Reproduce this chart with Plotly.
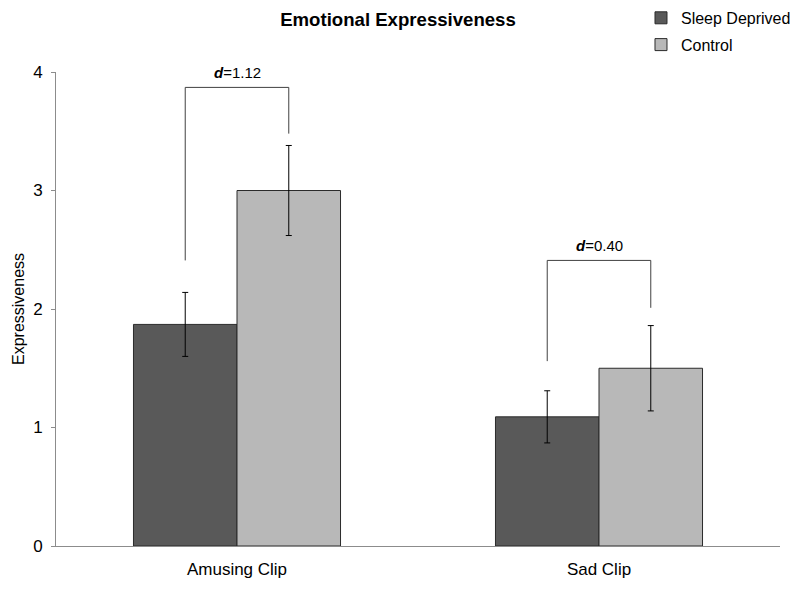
import plotly.graph_objects as go

categories = ["Amusing Clip", "Sad Clip"]
sleep_deprived = [1.87, 1.09]
sleep_deprived_err = [0.27, 0.22]
control = [3.0, 1.50]
control_err = [0.38, 0.36]
effect_labels = ["1.12", "0.40"]
bracket_top = [3.87, 2.41]
bracket_left_bottom = [2.41, 1.56]
bracket_right_bottom = [3.48, 2.01]
y_ticks = [0, 1, 2, 3, 4]

FONT = "Liberation Sans, Arial, sans-serif"

fig = go.Figure()
fig.add_trace(go.Bar(
    name="Sleep Deprived", x=categories, y=sleep_deprived, legendgroup="a",
    marker=dict(color="#595959", line=dict(color="#2b2b2b", width=1)),
    error_y=dict(type="data", array=sleep_deprived_err, color="#000000", thickness=1, width=3),
))
fig.add_trace(go.Bar(
    name="Control", x=categories, y=control, legendgroup="b",
    marker=dict(color="#b8b8b8", line=dict(color="#2b2b2b", width=1)),
    error_y=dict(type="data", array=control_err, color="#000000", thickness=1, width=3),
))

offset = 0.143
for i, cat in enumerate(categories):
    xl = i - offset
    xr = i + offset
    fig.add_trace(go.Scatter(
        x=[xl, xl, xr, xr],
        y=[bracket_left_bottom[i], bracket_top[i], bracket_top[i], bracket_right_bottom[i]],
        mode="lines", line=dict(color="#404040", width=1),
        showlegend=False, hoverinfo="skip", xaxis="x2",
    ))
    fig.add_annotation(
        x=i, y=bracket_top[i], xref="x2", yref="y",
        text="<b><i>d</i></b>=" + effect_labels[i],
        showarrow=False, yanchor="bottom", yshift=4,
        font=dict(family=FONT, size=15, color="#000000"),
    )

fig.update_layout(
    width=800, height=591,
    margin=dict(l=56, r=20, t=72, b=45, autoexpand=False),
    paper_bgcolor="white", plot_bgcolor="white",
    barmode="group", bargap=0.428, bargroupgap=0,
    font=dict(family=FONT, size=16, color="#000000"),
    title=dict(text="<b>Emotional Expressiveness</b>", x=0.4975, xanchor="center",
               y=1 - 19 / 591, yanchor="middle",
               font=dict(family=FONT, size=18.6, color="#000000")),
    legend=dict(x=0.808, y=1.15, xanchor="left", yanchor="top",
                font=dict(family=FONT, size=16, color="#000000"),
                itemwidth=30, tracegroupgap=3, bgcolor="rgba(0,0,0,0)"),
    xaxis=dict(range=[-0.5, 1.5], showline=True, linecolor="#8c8c8c", linewidth=1, ticks="",
               showgrid=False, zeroline=False, ticklabelstandoff=8, automargin=False,
               tickfont=dict(family=FONT, size=17, color="#000000")),
    xaxis2=dict(overlaying="x", range=[-0.5, 1.5], visible=False),
    yaxis=dict(range=[0, 4], tickvals=y_ticks, showline=True, linecolor="#8c8c8c",
               linewidth=1, ticks="outside", ticklen=4, tickcolor="#8c8c8c",
               showgrid=False, zeroline=False, ticklabelstandoff=5, automargin=False,
               title=dict(text="Expressiveness", standoff=4,
                          font=dict(family=FONT, size=16, color="#000000")),
               tickfont=dict(family=FONT, size=17, color="#000000")),
)

fig.write_html("out.html", config={"displayModeBar": False},
               post_script="document.body.style.margin='0';")
